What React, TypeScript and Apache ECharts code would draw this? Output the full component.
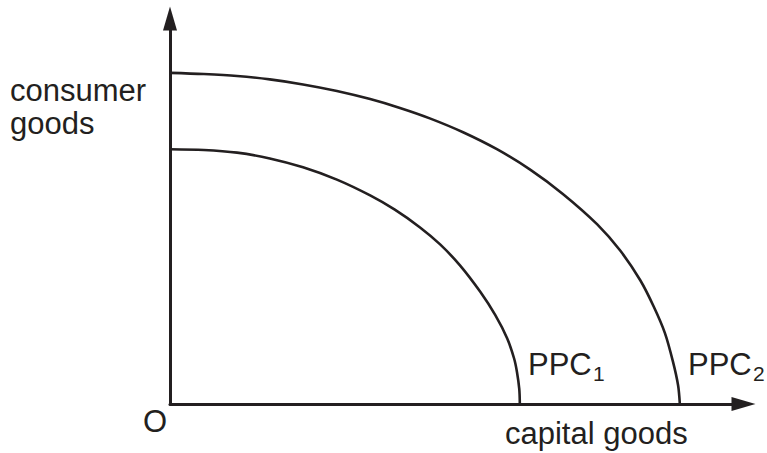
import React, { useEffect, useRef } from "react";
import * as echarts from "echarts";

// Production possibility curves (capital goods on x, consumer goods on y), in axis units 0-100
const ppc1X = [0, 5.9, 11.7, 17.4, 23.2, 29.1, 34.9, 39.2, 43.6, 47.1, 50.6, 54.1, 56.7, 58.8, 60.0, 60.5, 60.9, 61.0];
const ppc1Y = [66.1, 65.9, 65.2, 63.7, 61.4, 58.2, 54.1, 50.4, 45.8, 41.4, 35.9, 29.1, 23.1, 17.0, 11.8, 8.3, 3.9, 0];
const ppc2X = [0, 5.9, 11.7, 17.4, 23.2, 29.1, 34.9, 40.1, 45.3, 51.1, 57.0, 62.8, 68.5, 74.5, 78.5, 82.0, 84.4, 86.3, 87.7, 88.6, 88.9];
const ppc2Y = [85.9, 85.6, 85.1, 84.2, 82.9, 81.2, 79.1, 76.8, 74.1, 70.5, 66.1, 60.8, 54.5, 46.6, 39.8, 32.1, 25.1, 18.4, 11.0, 4.8, 0];

const xAxisName = "capital goods";
const yAxisNameLines = ["consumer", "goods"];
const originLabel = "O";
const curveNames = ["PPC", "PPC"];
const curveSubs = ["1", "2"];

const INK = "#231f20";
const FONT = "'Liberation Sans', Arial, Helvetica, sans-serif";

export default function App() {
  const ref = useRef<HTMLDivElement>(null);
  useEffect(() => {
    document.body.style.margin = "0";
    if (!ref.current) return;
    const chart = echarts.init(ref.current, null, { renderer: "svg" });
    const toPairs = (xs: number[], ys: number[]) => xs.map((x, i) => [x, ys[i]]);
    const label = (text: string, x: number, y: number, size = 31) => ({
      type: "text",
      style: {
        text,
        x,
        y,
        fill: INK,
        fontSize: size,
        fontFamily: FONT,
        align: "left",
        verticalAlign: "middle",
      },
    });
    const curve = (name: string, xs: number[], ys: number[]) => ({
      name,
      type: "line",
      data: toPairs(xs, ys),
      showSymbol: false,
      smooth: 0.3,
      clip: false,
      lineStyle: { color: INK, width: 2.6 },
      z: 1,
    });
    const axisCommon = {
      type: "value",
      min: 0,
      max: 100,
      axisLabel: { show: false },
      axisTick: { show: false },
      splitLine: { show: false },
      axisLine: {
        show: true,
        symbol: ["none", "triangle"],
        symbolSize: [14, 24],
        lineStyle: { color: INK, width: 3 },
      },
    };
    chart.setOption({
      animation: false,
      backgroundColor: "#ffffff",
      grid: { left: 170, top: 18.5, width: 573.5, height: 385.5 },
      xAxis: { ...axisCommon },
      yAxis: { ...axisCommon },
      series: [
        curve("PPC1", ppc1X, ppc1Y),
        curve("PPC2", ppc2X, ppc2Y),
      ],
      graphic: [
        label(yAxisNameLines[0], 10, 90),
        label(yAxisNameLines[1], 10, 123),
        label(originLabel, 143, 421),
        label(xAxisName, 505, 433),
        label(curveNames[0], 528, 364),
        label(curveSubs[0], 593, 373, 21),
        label(curveNames[1], 688, 364),
        label(curveSubs[1], 753, 373, 21),
      ],
    });
    return () => chart.dispose();
  }, []);
  return (
    <div
      ref={ref}
      style={{ position: "fixed", left: 0, top: 0, width: 767, height: 453, background: "#fff" }}
    />
  );
}
